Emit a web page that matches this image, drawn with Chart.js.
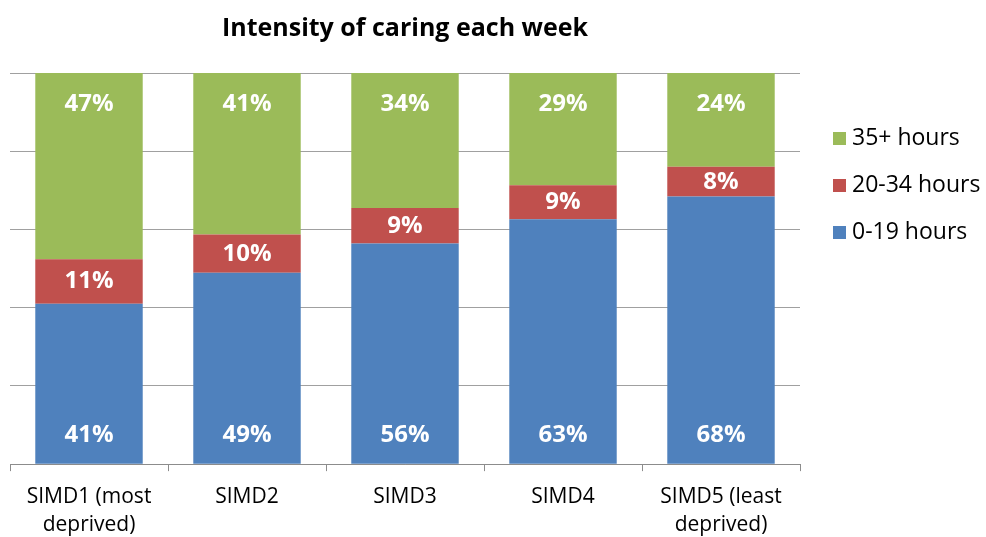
<!DOCTYPE html>
<html>
<head>
<meta charset="utf-8">
<script src="https://cdn.jsdelivr.net/npm/chart.js@4"></script>
<style>
    body { margin: 0; background: #fff; }
    #wrap { width: 986px; height: 537px; position: relative; }
</style>
</head>
<body>
<div id="wrap"><canvas id="myChart"></canvas></div>
<script>
// Data (percent of carers)
const categories = [
    ["SIMD1 (most", "deprived)"],
    "SIMD2",
    "SIMD3",
    "SIMD4",
    ["SIMD5 (least", "deprived)"],
];
const seriesNames = ["0-19 hours", "20-34 hours", "35+ hours"];
const low = [41.0, 48.9, 56.4, 62.6, 68.4];
const mid = [11.4, 9.8, 9.1, 8.7, 7.6];
const high = [47.6, 41.3, 34.5, 28.7, 24.0];
const lowLabels = ["41%", "49%", "56%", "63%", "68%"];
const midLabels = ["11%", "10%", "9%", "9%", "8%"];
const highLabels = ["47%", "41%", "34%", "29%", "24%"];
const yTicks = [0, 20, 40, 60, 80, 100];

const colors = ["#4F81BD", "#C0504D", "#9BBB59"];
const FONT = "'Open Sans', 'DejaVu Sans', sans-serif";

// Draw value labels: base / center / end like Excel
const barLabels = {
    id: "barLabels",
    afterDatasetsDraw(chart) {
        const ctx = chart.ctx;
        const labelSets = [lowLabels, midLabels, highLabels];
        ctx.save();
        ctx.fillStyle = "#fff";
        ctx.font = "bold 24px " + FONT;
        ctx.textAlign = "center";
        ctx.textBaseline = "middle";
        chart.data.datasets.forEach((ds, i) => {
            chart.getDatasetMeta(i).data.forEach((bar, j) => {
                let y;
                if (i === 0) y = bar.base - 28;
                else if (i === 1) y = (bar.y + bar.base) / 2;
                else y = bar.y + 31;
                ctx.fillText(labelSets[i][j], bar.x, y);
            });
        });
        ctx.restore();
    },
};

// Title and legend drawn beside the plot
const sideBits = {
    id: "sideBits",
    afterDraw(chart) {
        const ctx = chart.ctx;
        const area = chart.chartArea;
        ctx.save();
        ctx.fillStyle = "#000";
        ctx.font = "bold 25px " + FONT;
        ctx.textAlign = "center";
        ctx.textBaseline = "middle";
        ctx.fillText("Intensity of caring each week", (area.left + area.right) / 2, 29);

        ctx.font = "23px " + FONT;
        ctx.textAlign = "left";
        const order = [2, 1, 0];
        order.forEach((k, n) => {
            const y = 138 + n * 47;
            ctx.fillStyle = colors[k];
            ctx.fillRect(833, y - 6, 13, 13);
            ctx.fillStyle = "#000";
            ctx.fillText(seriesNames[k], 852, y);
        });
        ctx.restore();
    },
};

const ctx = document.getElementById("myChart").getContext("2d");
let myChart = new Chart(ctx, {
    type: "bar",
    data: {
        labels: categories,
        datasets: [
            { label: seriesNames[0], data: low, backgroundColor: colors[0] },
            { label: seriesNames[1], data: mid, backgroundColor: colors[1] },
            { label: seriesNames[2], data: high, backgroundColor: colors[2] },
        ],
    },
    options: {
        responsive: true,
        maintainAspectRatio: false,
        animation: false,
        layout: { padding: { left: 10, right: 186, top: 73, bottom: -14 } },
        datasets: {
            bar: { barPercentage: 0.68, categoryPercentage: 1 },
        },
        plugins: {
            legend: { display: false },
            title: { display: false },
            tooltip: { enabled: false },
        },
        scales: {
            x: {
                stacked: true,
                grid: {
                    offset: true,
                    drawOnChartArea: false,
                    drawTicks: true,
                    tickLength: 7,
                    color: "#8c8c8c",
                },
                border: { display: true, color: "#8c8c8c" },
                ticks: {
                    color: "#000",
                    font: { family: FONT, size: 21, lineHeight: 1.33 },
                    padding: 12,
                    maxRotation: 0,
                    autoSkip: false,
                },
            },
            y: {
                stacked: true,
                min: yTicks[0],
                max: yTicks[yTicks.length - 1],
                afterBuildTicks: (axis) => {
                    axis.ticks = yTicks.map((v) => ({ value: v }));
                },
                grid: { color: "#a0a0a0", drawTicks: false },
                border: { display: false },
                ticks: { display: false },
            },
        },
    },
    plugins: [barLabels, sideBits],
});
</script>
</body>
</html>
